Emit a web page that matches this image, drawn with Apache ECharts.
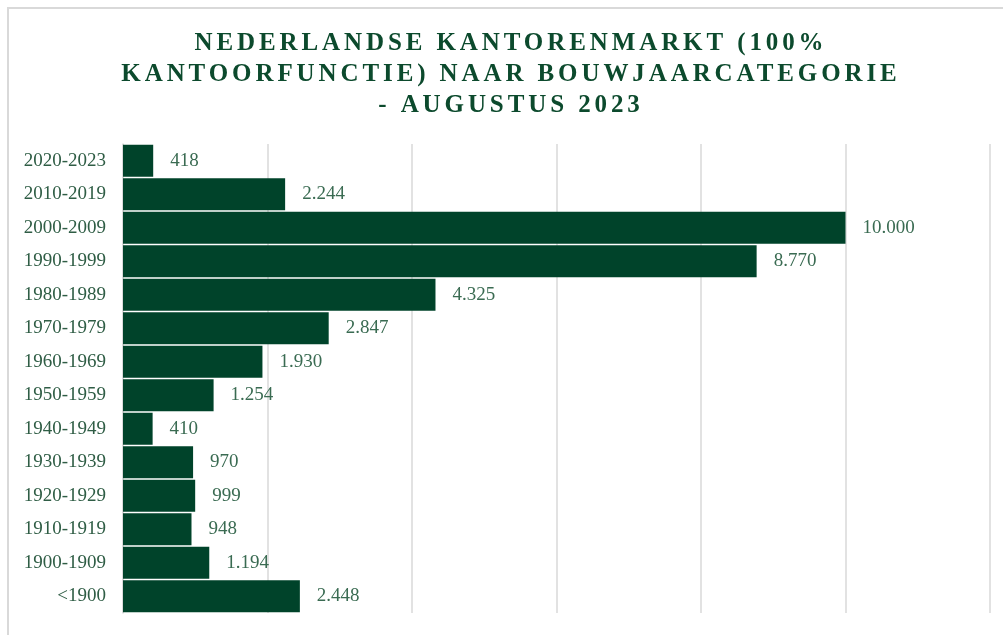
<!DOCTYPE html>
<html>
<head>
<meta charset="utf-8">
<script src="https://cdn.jsdelivr.net/npm/echarts@6/dist/echarts.min.js"></script>
<style>
  html, body { margin: 0; padding: 0; background: #ffffff; }
  #chart { width: 1003px; height: 635px; }
</style>
</head>
<body>
<div id="chart"></div>
<script>
// Bouwjaarcategorieën, van nieuw naar oud
const categories = [
  '2020-2023', '2010-2019', '2000-2009', '1990-1999', '1980-1989',
  '1970-1979', '1960-1969', '1950-1959', '1940-1949', '1930-1939',
  '1920-1929', '1910-1919', '1900-1909', '<1900'
];
// Aantal kantoorobjecten per categorie
const values = [418, 2244, 10000, 8770, 4325, 2847, 1930, 1254, 410, 970, 999, 948, 1194, 2448];
// Waarde-as
const axisMin = 0;
const axisMax = 12000;
const axisInterval = 2000;

const titleLines = [
  'NEDERLANDSE KANTORENMARKT (100%',
  'KANTOORFUNCTIE) NAAR BOUWJAARCATEGORIE',
  '- AUGUSTUS 2023'
];

// Letter spacing for the bold title font; the canvas context supports it natively.
const TITLE_TRACKING = '3.9px';
const baseFillText = CanvasRenderingContext2D.prototype.fillText;
CanvasRenderingContext2D.prototype.fillText = function () {
  if ('letterSpacing' in this && /bold|700/.test(this.font)) {
    const prev = this.letterSpacing;
    this.letterSpacing = TITLE_TRACKING;
    baseFillText.apply(this, arguments);
    this.letterSpacing = prev;
  } else {
    baseFillText.apply(this, arguments);
  }
};

// Dutch thousands separator
function fmt(v) {
  return String(v).replace(/\B(?=(\d{3})+(?!\d))/g, '.');
}

const SERIF = '"Liberation Serif", "Times New Roman", serif';
const GRID_GRAY = '#d9d9d9';

const chart = echarts.init(document.getElementById('chart'), null, { renderer: 'canvas' });
chart.setOption({
  backgroundColor: '#ffffff',
  animation: false,
  title: {
    text: titleLines.join('\n'),
    left: 511,
    top: 28,
    padding: 0,
    textAlign: 'center',
    textStyle: {
      fontFamily: SERIF,
      fontWeight: 'bold',
      fontSize: 25,
      lineHeight: 31,
      color: '#0c4a2d'
    }
  },
  graphic: [{
    type: 'rect',
    shape: { x: 8, y: 8, width: 1100, height: 700 },
    style: { fill: 'none', stroke: GRID_GRAY, lineWidth: 2 },
    silent: true,
    z: -1
  }],
  grid: { left: 123, right: 13, top: 144, bottom: 22, containLabel: false },
  xAxis: {
    type: 'value',
    min: axisMin,
    max: axisMax,
    interval: axisInterval,
    axisLabel: { show: false },
    axisTick: { show: false },
    axisLine: { show: false },
    splitLine: { show: true, lineStyle: { color: GRID_GRAY, width: 1.5 } }
  },
  yAxis: {
    type: 'category',
    data: categories,
    inverse: true,
    axisTick: { show: false },
    axisLine: { show: true, lineStyle: { color: GRID_GRAY, width: 1.5 } },
    axisLabel: {
      margin: 17,
      fontFamily: SERIF,
      fontSize: 19,
      color: '#2f5d45'
    }
  },
  series: [{
    type: 'bar',
    data: values,
    barCategoryGap: '5%',
    itemStyle: { color: '#00432a' },
    label: {
      show: true,
      position: 'right',
      distance: 17,
      fontFamily: SERIF,
      fontSize: 19,
      color: '#3a6b52',
      formatter: p => fmt(p.value)
    }
  }]
});
</script>
</body>
</html>
